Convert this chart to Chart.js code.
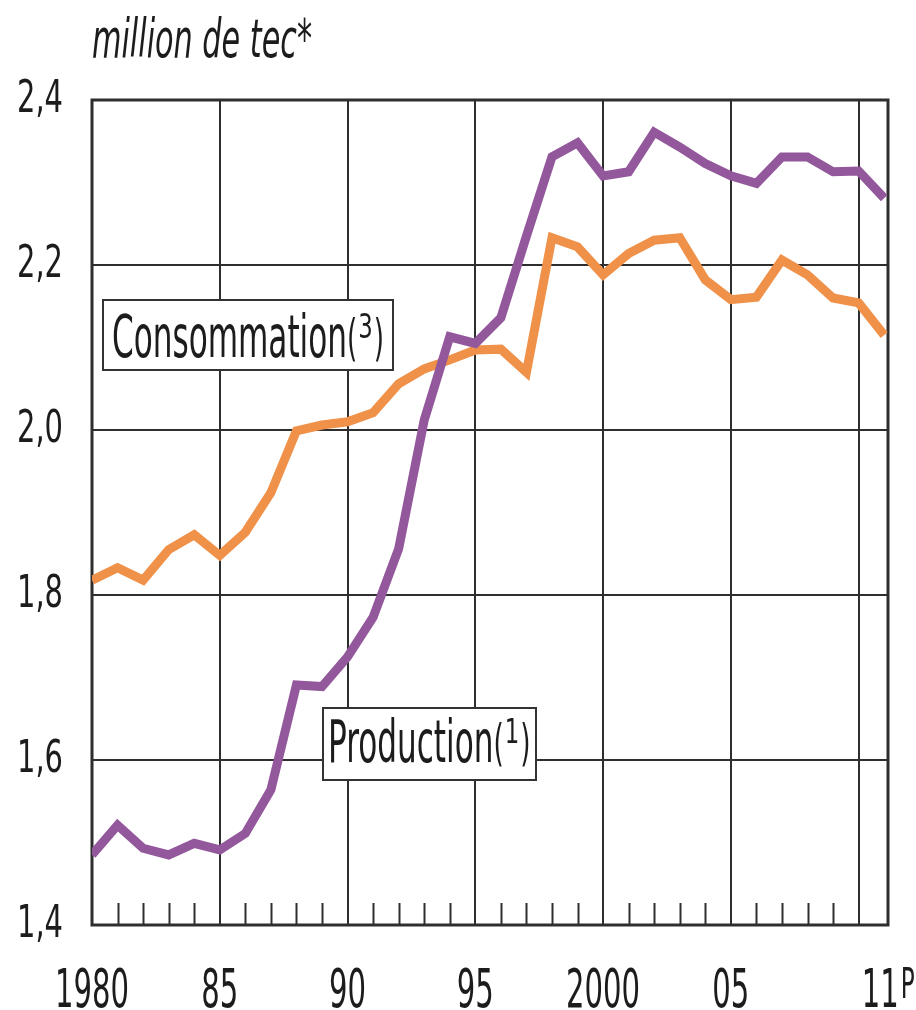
<!DOCTYPE html>
<html>
<head>
<meta charset="utf-8">
<script src="https://cdn.jsdelivr.net/npm/chart.js@4.4.1/dist/chart.umd.min.js"></script>
<style>
  html, body { margin: 0; padding: 0; background: #fff; }
  #wrap { width: 916px; height: 1010px; }
</style>
</head>
<body>
<div id="wrap"><canvas id="chart" width="916" height="1010"></canvas></div>
<script>
const years = [1980, 1981, 1982, 1983, 1984, 1985, 1986, 1987, 1988, 1989, 1990,
    1991, 1992, 1993, 1994, 1995, 1996, 1997, 1998, 1999, 2000,
    2001, 2002, 2003, 2004, 2005, 2006, 2007, 2008, 2009, 2010, 2011];

const production = [1.485, 1.521, 1.493, 1.485, 1.499, 1.491, 1.511, 1.564, 1.691, 1.689, 1.725,
    1.773, 1.856, 2.012, 2.113, 2.105, 2.136, 2.235, 2.331, 2.348, 2.308,
    2.313, 2.361, 2.343, 2.323, 2.308, 2.299, 2.331, 2.331, 2.313, 2.314, 2.281];

const consommation = [1.818, 1.833, 1.818, 1.855, 1.873, 1.848, 1.876, 1.924, 1.999, 2.006, 2.010,
    2.021, 2.056, 2.074, 2.085, 2.097, 2.098, 2.070, 2.233, 2.222, 2.188,
    2.214, 2.230, 2.233, 2.182, 2.158, 2.161, 2.206, 2.188, 2.160, 2.154, 2.115];

const xTickYears = [1980, 1985, 1990, 1995, 2000, 2005, 2011];
const xTickLabels = ['1980', '85', '90', '95', '2000', '05', '11P'];
const xGridYears = [1985, 1990, 1995, 2000, 2005, 2010];
const yTickLabels = ['1,4', '1,6', '1,8', '2,0', '2,2', '2,4'];

const FONT = '"Liberation Sans Narrow", "DejaVu Sans Condensed", "Liberation Sans", sans-serif';
const INK = '#1c1c1c';
const GRID = '#2e2e2e';

// draws text squeezed horizontally by sx
function squeezed(ctx, text, x, y, sx, align) {
    ctx.save();
    ctx.translate(x, y);
    ctx.scale(sx, 1);
    ctx.textAlign = align || 'left';
    ctx.fillText(text, 0, 0);
    ctx.restore();
    return ctx.measureText(text).width * sx;
}

function labelBox(ctx, box, main, sup, size, sx) {
    ctx.fillStyle = '#fff';
    ctx.fillRect(box.x, box.y, box.w, box.h);
    ctx.strokeStyle = '#333';
    ctx.lineWidth = 2;
    ctx.strokeRect(box.x, box.y, box.w, box.h);
    ctx.fillStyle = INK;
    ctx.font = size + 'px ' + FONT;
    let x = box.tx;
    x += squeezed(ctx, main, x, box.base, sx);
    ctx.font = Math.round(size * 0.85) + 'px ' + FONT;
    x += squeezed(ctx, '(', x, box.base - 2, sx);
    ctx.font = Math.round(size * 0.58) + 'px ' + FONT;
    x += squeezed(ctx, sup, x + 1, box.base - 19, sx * 1.25) + 2;
    ctx.font = Math.round(size * 0.85) + 'px ' + FONT;
    squeezed(ctx, ')', x, box.base - 2, sx);
}

const decorations = {
    id: 'decorations',
    beforeDatasetsDraw(chart) {
        const ctx = chart.ctx;
        const a = chart.chartArea;
        const xs = chart.scales.x;
        ctx.save();
        // small yearly ticks along the bottom
        ctx.strokeStyle = GRID;
        ctx.lineWidth = 2;
        years.forEach(yr => {
            if (yr % 5 === 0 || yr === 1980 || yr === 2011) return;
            const px = Math.round(xs.getPixelForValue(yr)) + 0.5;
            ctx.beginPath();
            ctx.moveTo(px, a.bottom - 22);
            ctx.lineTo(px, a.bottom);
            ctx.stroke();
        });
        ctx.lineWidth = 3;
        ctx.strokeRect(a.left, a.top, a.right - a.left, a.bottom - a.top);
        ctx.restore();
    },
    afterDatasetsDraw(chart) {
        const ctx = chart.ctx;
        const xs = chart.scales.x;
        const ys = chart.scales.y;
        ctx.save();
        ctx.textBaseline = 'alphabetic';
        ctx.fillStyle = INK;

        // unit title
        ctx.font = 'italic 54px ' + FONT;
        const tw = ctx.measureText('million de tec*').width;
        squeezed(ctx, 'million de tec*', 92, 57, 220 / tw);

        // y tick labels
        ctx.font = '44px ' + FONT;
        const sy = 46 / ctx.measureText('2,4').width;
        ys.ticks.forEach((t, i) => {
            const py = ys.getPixelForValue(t.value);
            squeezed(ctx, yTickLabels[i], 63, py + 12, sy, 'right');
        });

        // x tick labels
        ctx.font = '54px ' + FONT;
        const sx = 74 / ctx.measureText('1980').width;
        xTickYears.forEach((yr, i) => {
            const px = xs.getPixelForValue(yr);
            const txt = xTickLabels[i];
            if (txt.endsWith('P')) {
                ctx.font = '54px ' + FONT;
                const w = squeezed(ctx, txt.slice(0, -1), px - 4, 1007, sx, 'center');
                ctx.font = '43px ' + FONT;
                squeezed(ctx, 'P', px - 4 + w / 2 + 2, 998, sx);
            } else {
                ctx.font = '54px ' + FONT;
                squeezed(ctx, txt, px, 1007, sx, 'center');
            }
        });

        // series labels
        ctx.font = '58px ' + FONT;
        const bx = 235 / ctx.measureText('Consommation').width;
        labelBox(ctx, {x: 103, y: 300, w: 290, h: 70, tx: 112, base: 357}, 'Consommation', '3', 58, bx);
        labelBox(ctx, {x: 323, y: 708, w: 213, h: 72, tx: 328, base: 762}, 'Production', '1', 58, bx);
        ctx.restore();
    }
};

new Chart(document.getElementById('chart'), {
    type: 'line',
    data: {
        datasets: [
            {
                label: 'Production(1)',
                data: years.map((yr, i) => ({x: yr, y: production[i]})),
                borderColor: '#93589c',
                borderWidth: 9,
                pointRadius: 0,
                tension: 0,
                fill: false
            },
            {
                label: 'Consommation(3)',
                data: years.map((yr, i) => ({x: yr, y: consommation[i]})),
                borderColor: '#f0914a',
                borderWidth: 9,
                pointRadius: 0,
                tension: 0,
                fill: false
            }
        ]
    },
    options: {
        responsive: false,
        animation: false,
        devicePixelRatio: 1,
        layout: { padding: { top: 100, right: 28, left: 0, bottom: 0 } },
        plugins: {
            legend: { display: false },
            tooltip: { enabled: false }
        },
        scales: {
            x: {
                type: 'linear',
                min: 1980,
                max: 2011.15,
                afterBuildTicks: scale => {
                    scale.ticks = xGridYears.map(v => ({value: v}));
                },
                afterFit: scale => { scale.height = 85; },
                ticks: { display: false },
                grid: { color: GRID, lineWidth: 2, drawTicks: false },
                border: { display: false }
            },
            y: {
                min: 1.4,
                max: 2.4,
                afterFit: scale => { scale.width = 92; },
                ticks: { stepSize: 0.2, display: false },
                grid: { color: GRID, lineWidth: 2, drawTicks: false },
                border: { display: false }
            }
        }
    },
    plugins: [decorations]
});
</script>
</body>
</html>
